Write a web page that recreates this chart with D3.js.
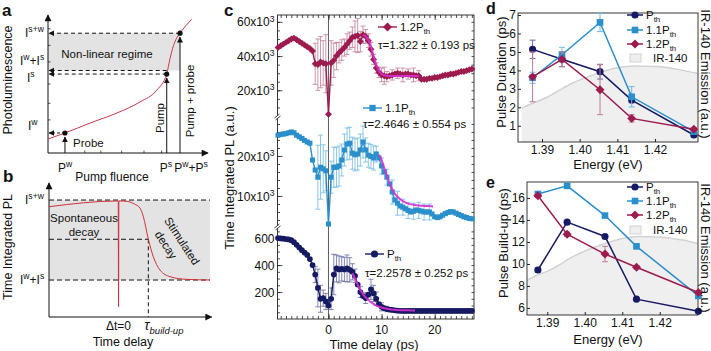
<!DOCTYPE html>
<html>
<head>
<meta charset="utf-8">
<script src="https://cdn.jsdelivr.net/npm/d3@7"></script>
<style>
  body { margin: 0; background: #fff; }
  svg { font-family: Arial, "Liberation Sans", Helvetica, sans-serif; }
</style>
</head>
<body>
<svg id="fig" width="711" height="351"></svg>
<script>
/* ---------- DATA ---------- */

// panel a, schematic (arbitrary units 0..10)
const aCurveFluence = [0, 1.06, 2.63, 4.31, 5.75, 6.81, 7.42, 7.52, 7.63, 7.79, 8.0, 8.25, 8.56, 8.98];
const aCurvePL      = [1.01, 1.45, 2.17, 2.90, 3.70, 4.57, 5.72, 6.25, 6.86, 7.59, 8.24, 8.68, 9.15, 9.69];
const aFluence = { probe: 1.06, pump: 7.42, both: 8.25 };
const aLevel   = { w: 1.45, s: 5.72, wPlusS: 5.98, sw: 8.68 };

// panel b, schematic (arbitrary units 0..10)
const bCurveDelay = [0, 4.30, 4.32, 4.34, 4.9, 5.3, 5.65, 5.86, 6.17, 6.48, 6.89, 7.52, 8.55, 10];
const bCurvePL    = [8.23, 8.66, 0.75, 8.66, 8.62, 8.43, 8.13, 7.49, 5.80, 4.50, 3.51, 3.01, 2.81, 2.76];
const bLevel = { sw: 8.73, mid: 5.80, wPlusS: 2.76 };
const bDelay = { zero: 4.31, tau: 6.17 };

// panel c, time delay grid (ps)
const delays = d3.range(-9.5, 27.01, 0.5);
const pl12 = [45,46,47,48,49,50,50.5,49.5,48.5,47.5,46.5,45.5,44.5,43,35.5,35,36.5,36,35.5,
  6,
  36,37.5,40,42,43.5,45,47,49,51,51.5, 52,48.5,52.5,51.5,49,44,38,33,30.5,29,
  28.5,28,28.5,29,29.5,30,29.5,29,29.5,29.5, 29,29,28.5,28.5,26.5,26.5,26.5,27,27,27.5,
  27.5,28,28.5,29,29,29.5,29.5,30,30.5,31, 31,31.5,32,32.5].map(v => v * 1000);
const pl11 = [25.2,25.4,25.5,25.6,25.8,26.0,25.8,25.2,24.8,24.4,23.9,23.5,23.2,19.0,16.5,14.7,17.2,16.8,16.3,
  3.0,
  14.7,17.2,17.2,17.5,19.0,21.5,23.0,23.2,20.7,20.3, 20.5,21.5,23.5,21.5,20.2,19.9,19.5,20.5,19.5,17.5,
  16.0,14.7,13.0,11.0,9.0,8.2,7.5,7.2,6.8,6.4, 6.0,6.2,6.5,6.4,6.2,6.0,6.0,6.0,5.5,4.8,
  4.6,4.8,5.2,5.6,5.9,6.1,6.0,5.7,5.4,5.1, 4.8,4.6,4.4,4.3].map(v => v * 1000);
const plTh = [600,598,596,593,590,585,570,550,530,510,492,475,445,400,330,230,150,155,130,
  100,
  150,330,375,368,372,368,375,365,350,320, 255,200,170,155,180,220,190,150,110,90,
  80,74,70,67,64,62,61,60,60,60, 60,60,60,60,60,60,60,60,60,60,
  60,60,60,60,60,60,60,60,60,60, 60,60,60,60];

const errDelay12 = [-2.5,-2,-1.5,-1,-0.5,0.5,1,1.5,2,2.5,3,3.5,4,4.5,5,5.5,6,6.5,7,7.5,8,8.5,9,9.5,10,10.5,11,12,13,14,15,16,17];
const err12 = [12,15,15,13,17,13,10,8,6,6,5,6,5,6,9,10,6,5,4,4,4,3,3,3,4,5,3,3,3,4,3,4,3].map(v => v * 1000);
const errDelay11 = [-2,-1.5,-1,-0.5,0.5,1,1.5,2,2.5,3,3.5,4,4.5,5,5.5,6,6.5,7,7.5,8,8.5,9,10,11,12,13,14,15,16,17,18,19];
const err11 = [8,8,6,5,4,5,5,5,4,4,4,4,4,4,4,4,4,3,3,3,3,2,2,2,3,3,2,2,2,2,2,2].map(v => v * 1000);
const errDelayTh = [-2.5,-2,-1.5,-1,-0.5,0.5,1,1.5,2,2.5,3,3.5,4,4.5,5,6,7,8,8.5,9,10,11];
const errTh = [60,140,100,60,60,80,150,100,100,90,90,100,90,60,50,40,40,75,60,50,30,20];

const fitDelay12 = [6.5,7,7.5,8,8.5,9,9.5,10,10.5,11,12,13,14,15,16,17];
const fit12 = [52.5,51.5,49.5,45.5,40,35,31.5,29.5,28.8,28.5,28.3,28.3,28.3,28.3,28.3,28.3].map(v => v * 1000);
const fitDelay11 = [9.5,10,10.5,11,11.5,12,12.5,13,14,15,16,17,18,19,19.7];
const fit11 = [20.3,19,17,15,13.2,11.7,10.6,9.8,8.7,8.1,7.8,7.6,7.5,7.5,7.4].map(v => v * 1000);
const fitDelayTh = [4.5,5,5.5,6,6.5,7,7.5,8,9,10,11,12,13,14,15,16.3];
const fitTh = [340,300,255,215,185,160,140,125,100,85,76,70,67,65,64,63];

// panels d, e
const energies = [1.3875, 1.3953, 1.4054, 1.4138, 1.4303];
const durTh  = [5.14, 4.6, 3.93, 2.39, 0.5];
const dur11  = [3.6, 4.85, 6.6, 2.57, 0.68];
const dur12  = [3.65, 4.6, 2.95, 1.4, 0.81];
const durErrTh = [0.5, 0.4, 0.4, 0.15, 0.1];
const durErr11 = [0.3, 0.4, 0.5, 0.55, 0.1];
const durErr12 = [1.35, 0.4, 1.35, 0.2, 0.1];
const buildTh = [9.45, 13.8, 12.5, 6.8, 5.7];
const build11 = [16.36, 17.1, 14.4, 11.6, 7.1];
const build12 = [16.2, 12.7, 10.9, 9.7, 7.4];
const buildErrTh = [0.2, 0.15, 0.15, 0.1, 0.1];
const buildErr11 = [0.2, 0.1, 0.15, 0.15, 0.2];
const buildErr12 = [0.15, 0.2, 0.7, 0.15, 0.15];
const emEnergy = [1.3846, 1.3852, 1.3912, 1.3976, 1.4046, 1.410, 1.4143, 1.4204, 1.4257, 1.4314];
const emission = [0.26, 0.27, 0.345, 0.45, 0.53, 0.575, 0.59, 0.585, 0.565, 0.53];

const colTh = "#161a62", col11 = "#2b8fcb", col12 = "#9d1b4e", colFit = "#d92fd4";
const errColTh = "#6669a3", errCol11 = "#6fb9e2", errCol12 = "#c27b98";

/* ---------- HELPERS ---------- */
const svg = d3.select("#fig");
const defs = svg.append("defs");
defs.append("marker")
  .attr("id", "arrow")
  .attr("viewBox", "0 0 10 10")
  .attr("refX", 9).attr("refY", 5)
  .attr("markerUnits", "userSpaceOnUse")
  .attr("markerWidth", 8).attr("markerHeight", 7)
  .attr("orient", "auto")
  .append("path").attr("d", "M0,0 L10,5 L0,10 z").attr("fill", "#111");
defs.append("marker")
  .attr("id", "arrowSm")
  .attr("viewBox", "0 0 10 10")
  .attr("refX", 9).attr("refY", 5)
  .attr("markerUnits", "userSpaceOnUse")
  .attr("markerWidth", 6).attr("markerHeight", 6)
  .attr("orient", "auto")
  .append("path").attr("d", "M0,0 L10,5 L0,10 z").attr("fill", "#111");

// text with sub / superscripts; parts = [[string, kind], ...]
function rich(g, x, y, parts, size, anchor) {
  const t = g.append("text").attr("x", x).attr("y", y)
    .attr("font-size", size).attr("text-anchor", anchor || "start").attr("fill", "#111");
  let shift = 0;
  parts.forEach(p => {
    const [s, kind] = Array.isArray(p) ? p : [p, "n"];
    let target = 0, fs = size;
    if (kind === "sup") { target = -size * 0.38; fs = size * 0.72; }
    if (kind === "sub" || kind === "itsub") { target = size * 0.3; fs = size * 0.68; }
    const ts = t.append("tspan").attr("dy", target - shift).attr("font-size", fs).text(s);
    if (kind === "it" || kind === "itsub") ts.attr("font-style", "italic");
    shift = target;
  });
  return t;
}

function label(g, x, y, s, size, opts = {}) {
  const t = g.append("text").attr("x", x).attr("y", y).attr("font-size", size)
    .attr("text-anchor", opts.anchor || "middle").attr("fill", "#111").text(s);
  if (opts.rotate) t.attr("transform", `rotate(${opts.rotate},${x},${y})`);
  if (opts.bold) t.attr("font-weight", "bold");
  if (opts.baseline) t.attr("dominant-baseline", opts.baseline);
  return t;
}

function line(g, x1, y1, x2, y2, opts = {}) {
  const l = g.append("line").attr("x1", x1).attr("y1", y1).attr("x2", x2).attr("y2", y2)
    .attr("stroke", opts.color || "#111").attr("stroke-width", opts.width || 1);
  if (opts.dash) l.attr("stroke-dasharray", opts.dash);
  if (opts.arrow) l.attr("marker-end", `url(#${opts.arrow})`);
  return l;
}

/* ---------- PANEL A ---------- */
{
  const g = svg.append("g");
  const x = d3.scaleLinear().domain([0, 10]).range([48, 208]);
  const y = d3.scaleLinear().domain([0, 10]).range([153, 15]);

  g.append("rect").attr("x", x(0)).attr("y", y(aLevel.sw))
    .attr("width", x(aFluence.both) - x(0)).attr("height", y(aLevel.wPlusS) - y(aLevel.sw))
    .attr("fill", "#e3e3e3");

  // minor ticks along axes
  [2.3, 3.3, 4.6, 6.0, 7.1].forEach(v => line(g, x(v), y(0), x(v), y(0) - 2.5, { width: 0.7 }));
  [2.4, 3.6, 5.0, 6.6, 7.8, 9.0].forEach(v => line(g, x(0), y(v), x(0) + 2.5, y(v), { width: 0.7 }));

  line(g, x(0), y(0), x(0), y(10), { arrow: "arrow" });
  line(g, x(0), y(0), x(10), y(0), { arrow: "arrow" });

  // dashed read-outs
  line(g, x(aFluence.both), y(aLevel.sw), x(0) + 1, y(aLevel.sw), { dash: "4,3", arrow: "arrowSm" });
  line(g, x(aFluence.pump), y(aLevel.wPlusS), x(0) + 1, y(aLevel.wPlusS), { dash: "4,3", arrow: "arrowSm" });
  line(g, x(aFluence.pump), y(aLevel.s), x(0) + 1, y(aLevel.s), { dash: "4,3", arrow: "arrowSm" });
  line(g, x(aFluence.probe), y(aLevel.w), x(0) + 1, y(aLevel.w), { dash: "3,2", arrow: "arrowSm" });

  // excitation arrows
  line(g, x(aFluence.probe), y(0), x(aFluence.probe), y(aLevel.w) + 4, { arrow: "arrowSm" });
  line(g, x(aFluence.pump), y(0), x(aFluence.pump), y(aLevel.s) + 4, { arrow: "arrowSm" });
  line(g, x(aFluence.both), y(0), x(aFluence.both), y(aLevel.sw) + 4, { arrow: "arrowSm" });

  g.append("path")
    .datum(aCurveFluence.map((f, i) => [f, aCurvePL[i]]))
    .attr("fill", "none").attr("stroke", "#c8374a").attr("stroke-width", 1)
    .attr("d", d3.line().x(d => x(d[0])).y(d => y(d[1])).curve(d3.curveMonotoneX));

  [[aFluence.probe, aLevel.w], [aFluence.pump, aLevel.s], [aFluence.both, aLevel.sw]].forEach(d => {
    g.append("circle").attr("cx", x(d[0])).attr("cy", y(d[1])).attr("r", 2.6).attr("fill", "#111");
  });

  label(g, 107, 58, "Non-linear regime", 11.5);
  label(g, 73, 147, "Probe", 11.5, { anchor: "start" });
  label(g, 164, 118, "Pump", 11.5, { rotate: -90 });
  label(g, 194, 101, "Pump + probe", 11.5, { rotate: -90 });
  label(g, 12, 80, "Photoluminescence", 12.5, { rotate: -90 });
  label(g, 112, 181, "Pump fluence", 12);
  label(g, 2, 16, "a", 17, { bold: true, anchor: "start" });

  rich(g, 25, 37, [["I"], ["s+w", "sup"]], 12);
  rich(g, 20, 65, [["I"], ["w", "sup"], ["+I"], ["s", "sup"]], 12);
  rich(g, 27, 82, [["I"], ["s", "sup"]], 12);
  rich(g, 28, 130, [["I"], ["w", "sup"]], 12);
  rich(g, 65, 172, [["P"], ["w", "sup"]], 12, "middle");
  rich(g, 166, 172, [["P"], ["s", "sup"]], 12, "middle");
  rich(g, 191, 172, [["P"], ["w", "sup"], ["+P"], ["s", "sup"]], 12, "middle");
}

/* ---------- PANEL B ---------- */
{
  const g = svg.append("g");
  const x = d3.scaleLinear().domain([0, 10]).range([49, 210]);
  const y = d3.scaleLinear().domain([0, 10]).range([317, 183]);

  g.append("rect").attr("x", x(0)).attr("y", y(bLevel.sw))
    .attr("width", x(10) - x(0)).attr("height", y(bLevel.wPlusS) - y(bLevel.sw))
    .attr("fill", "#e3e3e3");

  line(g, x(0), y(bLevel.sw), x(10), y(bLevel.sw), { dash: "5,3" });
  line(g, x(0), y(bLevel.wPlusS), x(10), y(bLevel.wPlusS), { dash: "5,3" });
  line(g, x(0), y(bLevel.mid), x(bDelay.tau), y(bLevel.mid), { dash: "5,3" });
  line(g, x(bDelay.tau), y(bLevel.mid), x(bDelay.tau), y(0), { dash: "4,3" });

  line(g, x(0), y(0), x(0), y(10), { arrow: "arrow" });
  line(g, x(0), y(0), x(10.1), y(0), { arrow: "arrow" });

  g.append("path")
    .datum(bCurveDelay.map((t, i) => [t, bCurvePL[i]]))
    .attr("fill", "none").attr("stroke", "#d0303c").attr("stroke-width", 1)
    .attr("d", d3.line().x(d => x(d[0])).y(d => y(d[1])).curve(d3.curveMonotoneX));

  label(g, 84, 222, "Spontaneous", 11.5);
  label(g, 84, 236, "decay", 11.5);
  label(g, 182, 241, "Stimulated", 11.5, { rotate: 57, baseline: "central" });
  label(g, 166, 245, "decay", 11.5, { rotate: 57, baseline: "central" });

  label(g, 12, 247, "Time Integrated PL", 12.5, { rotate: -90 });
  label(g, 123, 346, "Time delay", 12.5);
  label(g, 3, 182, "b", 17, { bold: true, anchor: "start" });
  label(g, x(bDelay.zero), 330, "\u0394t=0", 12);
  rich(g, x(bDelay.tau) - 4, 330, [["\u03c4", "it"], ["build-up", "itsub"]], 14);

  rich(g, 25, 204, [["I"], ["s+w", "sup"]], 12);
  rich(g, 20, 284, [["I"], ["w", "sup"], ["+I"], ["s", "sup"]], 12);
}

/* ---------- PANEL C ---------- */
{
  const g = svg.append("g");
  const L = 277.5, R = 474, T = 15, B = 319;
  const x = d3.scaleLinear().domain([-9.6, 27.4]).range([L, R]);
  const y12 = d3.scaleLinear().domain([5000, 64000]).range([116, T]);
  const y11 = d3.scaleLinear().domain([2500, 29500]).range([226, 118]);
  const yTh = d3.scaleLinear().domain([0, 675]).range([B, 228]);

  const subs = [
    { y: y12, major: [20000, 40000, 60000], minor: d3.range(10000, 64000, 5000), fmt: d => [[String(d / 1000) + "x10"], ["3", "sup"]] },
    { y: y11, major: [10000, 20000], minor: d3.range(4000, 29500, 2000), fmt: d => [[String(d / 1000) + "x10"], ["3", "sup"]] },
    { y: yTh, major: [200, 400, 600], minor: d3.range(50, 675, 50), fmt: d => [[String(d)]] }
  ];

  subs.forEach(s => {
    const gl = g.append("g").attr("transform", `translate(${L},0)`)
      .call(d3.axisLeft(s.y).tickValues(s.major).tickSize(-5).tickFormat(""));
    gl.select(".domain").remove();
    const gm = g.append("g").attr("transform", `translate(${L},0)`)
      .call(d3.axisLeft(s.y).tickValues(s.minor).tickSize(-2.5).tickFormat(""));
    gm.select(".domain").remove();
    const gr = g.append("g").attr("transform", `translate(${R},0)`)
      .call(d3.axisRight(s.y).tickValues(s.minor).tickSize(-2.5).tickFormat(""));
    gr.select(".domain").remove();
    s.major.forEach(v => rich(g, L - 3, s.y(v) + 4.5, s.fmt(v), 12, "end"));
  });

  const xt = d3.range(-9, 28, 1);
  [[B, d3.axisBottom], [T, d3.axisTop]].forEach(([yy, ax]) => {
    const a = g.append("g").attr("transform", `translate(0,${yy})`)
      .call(ax(x).tickValues(xt).tickSize(-3).tickFormat(""));
    a.select(".domain").remove();
    const b = g.append("g").attr("transform", `translate(0,${yy})`)
      .call(ax(x).tickValues([0, 10, 20]).tickSize(-5).tickFormat(""));
    b.select(".domain").remove();
  });
  g.selectAll(".tick line").attr("stroke", "#222").attr("stroke-width", 0.8);

  g.append("rect").attr("x", L).attr("y", T).attr("width", R - L).attr("height", B - T)
    .attr("fill", "none").attr("stroke", "#222").attr("stroke-width", 0.9);
  // axis breaks
  [117, 227].forEach(yy => {
    g.append("rect").attr("x", L - 3).attr("y", yy - 1.5).attr("width", 6).attr("height", 3).attr("fill", "#fff");
    line(g, L - 3, yy + 1, L + 2, yy - 3, { width: 0.8 });
    line(g, L - 2, yy + 3, L + 3, yy - 1, { width: 0.8 });
  });

  line(g, x(0), T, x(0), B, { color: "#333", width: 0.8 });

  [0, 10, 20].forEach(v => label(g, x(v), 334, String(v), 12));
  label(g, 374, 349, "Time delay (ps)", 13);
  label(g, 234, 178, "Time Integrated PL (a.u.)", 13, { rotate: -90 });
  label(g, 224, 16, "c", 17, { bold: true, anchor: "start" });

  const series = [
    { vals: pl12, y: y12, col: col12, ecol: errCol12, et: errDelay12, ev: err12, ft: fitDelay12, fv: fit12,
      sym: d3.symbol().type(d3.symbolSquare).size(24), rot: 45 },
    { vals: pl11, y: y11, col: col11, ecol: errCol11, et: errDelay11, ev: err11, ft: fitDelay11, fv: fit11,
      sym: d3.symbol().type(d3.symbolSquare).size(26), rot: 0 },
    { vals: plTh, y: yTh, col: colTh, ecol: errColTh, et: errDelayTh, ev: errTh, ft: fitDelayTh, fv: fitTh,
      sym: d3.symbol().type(d3.symbolCircle).size(26), rot: 0 }
  ];

  series.forEach(s => {
    const pts = delays.map((t, i) => ({ t, v: s.vals[i] }));
    const eb = s.et.map((t, i) => ({ t, v: s.vals[delays.findIndex(d => Math.abs(d - t) < 1e-6)], e: s.ev[i] }));
    const ge = g.append("g").attr("stroke", s.ecol).attr("stroke-width", 0.8);
    ge.selectAll("line.v").data(eb).join("line")
      .attr("x1", d => x(d.t)).attr("x2", d => x(d.t))
      .attr("y1", d => s.y(d.v - d.e)).attr("y2", d => s.y(d.v + d.e));
    ge.selectAll("line.c1").data(eb).join("line")
      .attr("x1", d => x(d.t) - 2.5).attr("x2", d => x(d.t) + 2.5)
      .attr("y1", d => s.y(d.v + d.e)).attr("y2", d => s.y(d.v + d.e));
    ge.selectAll("line.c2").data(eb).join("line")
      .attr("x1", d => x(d.t) - 2.5).attr("x2", d => x(d.t) + 2.5)
      .attr("y1", d => s.y(d.v - d.e)).attr("y2", d => s.y(d.v - d.e));

    g.append("path").datum(pts).attr("fill", "none").attr("stroke", s.col).attr("stroke-width", 1.4)
      .attr("d", d3.line().x(d => x(d.t)).y(d => s.y(d.v)));
    g.append("g").selectAll("path").data(pts).join("path")
      .attr("d", s.sym).attr("fill", s.col)
      .attr("transform", d => `translate(${x(d.t)},${s.y(d.v)}) rotate(${s.rot})`);

    g.append("path").datum(s.ft.map((t, i) => ({ t, v: s.fv[i] })))
      .attr("fill", "none").attr("stroke", colFit).attr("stroke-width", 2).attr("opacity", 0.9)
      .attr("d", d3.line().x(d => x(d.t)).y(d => s.y(d.v)).curve(d3.curveMonotoneX));
  });

  // legends
  const legs = [
    { x0: 378, y0: 27, s: series[0], name: "1.2P", tau: "\u03c4=1.322 \u00b1 0.193 ps", ty: 49 },
    { x0: 363, y0: 108, s: series[1], name: "1.1P", tau: "\u03c4=2.4646 \u00b1 0.554 ps", ty: 128 },
    { x0: 365, y0: 254, s: series[2], name: "P", tau: "\u03c4=2.2578 \u00b1 0.252 ps", ty: 277 }
  ];
  legs.forEach(l => {
    line(g, l.x0, l.y0, l.x0 + 19, l.y0, { color: l.s.col, width: 1.4 });
    g.append("path").attr("d", l.s.sym.size(40)()).attr("fill", l.s.col)
      .attr("transform", `translate(${l.x0 + 9.5},${l.y0}) rotate(${l.s.rot})`);
    rich(g, l.x0 + 22, l.y0 + 4, [[l.name], ["th", "sub"]], 11.5);
    label(g, l.x0, l.ty, l.tau, 11.5, { anchor: "start" });
  });
}

/* ---------- PANELS D, E ---------- */
function energyPanel(cfg) {
  const g = svg.append("g");
  const x = d3.scaleLinear().domain(cfg.xDom).range([cfg.L, cfg.R]);
  const y = d3.scaleLinear().domain(cfg.yDom).range([cfg.B, cfg.T]);
  const yEm = d3.scaleLinear().domain([0, 1]).range([cfg.B, cfg.T]);

  g.append("clipPath").attr("id", cfg.id).append("rect")
    .attr("x", cfg.L).attr("y", cfg.T).attr("width", cfg.R - cfg.L).attr("height", cfg.B - cfg.T);

  g.append("path").datum(emEnergy.map((e, i) => [e, emission[i]]))
    .attr("clip-path", `url(#${cfg.id})`)
    .attr("fill", "#efefef").attr("stroke", "none")
    .attr("d", d3.area().x(d => x(d[0])).y0(cfg.B).y1(d => yEm(d[1])).curve(d3.curveMonotoneX));
  g.append("path").datum(emEnergy.map((e, i) => [e, emission[i]]))
    .attr("clip-path", `url(#${cfg.id})`)
    .attr("fill", "none").attr("stroke", "#d2d2d2").attr("stroke-width", 1.5)
    .attr("d", d3.line().x(d => x(d[0])).y(d => yEm(d[1])).curve(d3.curveMonotoneX));

  const ax = g.append("g").attr("transform", `translate(0,${cfg.B})`)
    .call(d3.axisBottom(x).tickValues([1.39, 1.40, 1.41, 1.42]).tickSize(-3).tickPadding(3).tickFormat(d3.format(".2f")));
  ax.select(".domain").remove();
  ax.selectAll("text").attr("font-size", 12).attr("fill", "#111");
  const ay = g.append("g").attr("transform", `translate(${cfg.L},0)`)
    .call(d3.axisLeft(y).tickValues(cfg.yTicks).tickSize(-3).tickPadding(2).tickFormat(d3.format("d")));
  ay.select(".domain").remove();
  ay.selectAll("text").attr("font-size", 12).attr("fill", "#111");
  g.selectAll(".tick line").attr("stroke", "#222");
  ax.attr("font-family", null);
  ay.attr("font-family", null);

  g.append("rect").attr("x", cfg.L).attr("y", cfg.T).attr("width", cfg.R - cfg.L).attr("height", cfg.B - cfg.T)
    .attr("fill", "none").attr("stroke", "#222").attr("stroke-width", 0.9);

  cfg.series.forEach(s => {
    const pts = energies.map((e, i) => ({ e, v: s.vals[i], err: s.err[i] }));
    const ge = g.append("g").attr("stroke", s.ecol).attr("stroke-width", 1);
    ge.selectAll("line.v").data(pts).join("line")
      .attr("x1", d => x(d.e)).attr("x2", d => x(d.e))
      .attr("y1", d => y(d.v - d.err)).attr("y2", d => y(d.v + d.err));
    [1, -1].forEach(sg => {
      ge.selectAll(null).data(pts).join("line")
        .attr("x1", d => x(d.e) - 3).attr("x2", d => x(d.e) + 3)
        .attr("y1", d => y(d.v + sg * d.err)).attr("y2", d => y(d.v + sg * d.err));
    });
    g.append("path").datum(pts).attr("fill", "none").attr("stroke", s.col).attr("stroke-width", 1.5)
      .attr("d", d3.line().x(d => x(d.e)).y(d => y(d.v)));
    g.append("g").selectAll("path").data(pts).join("path")
      .attr("d", s.sym).attr("fill", s.col)
      .attr("transform", d => `translate(${x(d.e)},${y(d.v)}) rotate(${s.rot})`);
  });

  // legend
  cfg.series.forEach((s, i) => {
    const ly = cfg.legY[i];
    line(g, 627, ly, 643, ly, { color: s.col, width: 1.5 });
    g.append("path").attr("d", s.sym).attr("fill", s.col)
      .attr("transform", `translate(635,${ly}) rotate(${s.rot})`);
    rich(g, 646, ly + 4, [[s.name], ["th", "sub"]], 11.5);
  });
  g.append("rect").attr("x", 630).attr("y", cfg.legY[3] - 4).attr("width", 11).attr("height", 8)
    .attr("fill", "#efefef").attr("stroke", "#d2d2d2");
  label(g, 653, cfg.legY[3] + 4, "IR-140", 11.5, { anchor: "start" });

  label(g, 608, cfg.xLabY, "Energy (eV)", 13);
  label(g, cfg.yLabX, cfg.yLabY, cfg.yLab, 13, { rotate: -90, baseline: "central" });
  label(g, 705, cfg.rLabY, "IR-140 Emission (a.u.)", 13, { rotate: 90, baseline: "central" });
  label(g, 486, cfg.letterY, cfg.letter, 16, { bold: true, anchor: "start" });
}

const symTh = d3.symbol().type(d3.symbolCircle).size(40);
const sym11 = d3.symbol().type(d3.symbolSquare).size(44);
const sym12 = d3.symbol().type(d3.symbolSquare).size(40);

energyPanel({
  id: "clipD", L: 518, R: 698, T: 13, B: 142,
  xDom: [1.38363, 1.4314], yDom: [0.12, 7.11], yTicks: [1, 2, 3, 4, 5, 6, 7],
  series: [
    { name: "P", vals: durTh, err: durErrTh, col: colTh, ecol: errColTh, sym: symTh, rot: 0 },
    { name: "1.1P", vals: dur11, err: durErr11, col: col11, ecol: errCol11, sym: sym11, rot: 0 },
    { name: "1.2P", vals: dur12, err: durErr12, col: col12, ecol: errCol12, sym: sym12, rot: 45 }
  ],
  legY: [15, 30, 44, 58],
  xLabY: 169, yLab: "Pulse Duration (ps)", yLabX: 501, yLabY: 72, rLabY: 74,
  letter: "d", letterY: 14
});

energyPanel({
  id: "clipE", L: 527, R: 698, T: 182, B: 315,
  xDom: [1.3846, 1.4302], yDom: [5.36, 17.45], yTicks: [6, 8, 10, 12, 14, 16],
  series: [
    { name: "P", vals: buildTh, err: buildErrTh, col: colTh, ecol: errColTh, sym: symTh, rot: 0 },
    { name: "1.1P", vals: build11, err: buildErr11, col: col11, ecol: errCol11, sym: sym11, rot: 0 },
    { name: "1.2P", vals: build12, err: buildErr12, col: col12, ecol: errCol12, sym: sym12, rot: 45 }
  ],
  legY: [187, 201, 215, 230],
  xLabY: 344, yLab: "Pulse Build-up (ps)", yLabX: 503, yLabY: 243, rLabY: 248,
  letter: "e", letterY: 188
});
</script>
</body>
</html>
